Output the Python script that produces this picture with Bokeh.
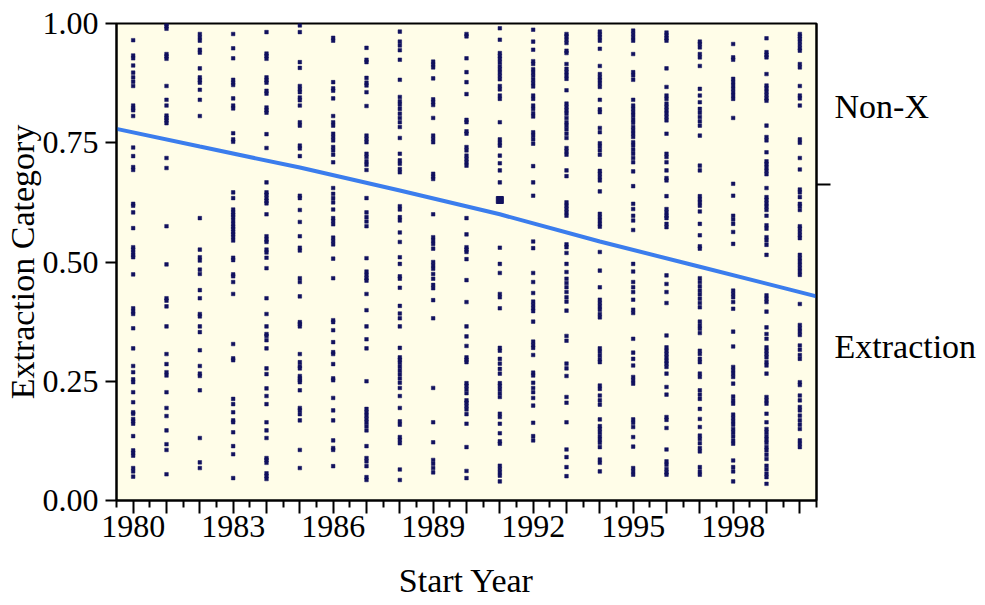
from bokeh.plotting import figure
from bokeh.models import (FixedTicker, LinearAxis, CustomJSTickFormatter,
                          PrintfTickFormatter, Range1d)
from bokeh.embed import file_html
from bokeh.resources import INLINE

# ---------------- data ----------------
years = list(range(1980, 2001))
categories = ["Extraction", "Non-X"]
x_tick_label_years = [1980, 1983, 1986, 1989, 1992, 1995, 1998]
y_ticks = [0.0, 0.25, 0.5, 0.75, 1.0]

y1980 = [0.965,0.933,0.927,0.912,0.897,0.887,0.878,0.869,0.828,0.822,0.818,0.806,0.740,0.722,0.699,0.693,0.622,0.618,0.604,0.571,0.531,0.526,0.520,0.514,0.510,0.474,0.403,0.396,0.391,0.361,0.319,0.282,0.269,0.254,0.248,0.227,0.206,0.185,0.182,0.171,0.166,0.161,0.135,0.105,0.100,0.094,0.068,0.061,0.050]
y1981 = [0.999,0.994,0.989,0.936,0.931,0.926,0.869,0.840,0.828,0.807,0.802,0.797,0.791,0.718,0.697,0.575,0.495,0.424,0.419,0.407,0.365,0.307,0.286,0.269,0.262,0.227,0.194,0.177,0.147,0.118,0.106,0.055]
y1982 = [0.978,0.971,0.964,0.945,0.939,0.906,0.887,0.881,0.876,0.861,0.840,0.806,0.592,0.526,0.510,0.503,0.484,0.475,0.441,0.424,0.391,0.386,0.365,0.353,0.315,0.282,0.266,0.261,0.231,0.131,0.080,0.068]
y1983 = [0.978,0.948,0.927,0.882,0.876,0.871,0.843,0.828,0.822,0.770,0.757,0.752,0.646,0.634,0.610,0.604,0.599,0.594,0.587,0.580,0.574,0.569,0.563,0.558,0.552,0.545,0.509,0.504,0.474,0.470,0.458,0.433,0.328,0.298,0.294,0.213,0.202,0.185,0.168,0.164,0.143,0.114,0.097,0.047]
y1984 = [0.982,0.937,0.932,0.926,0.887,0.881,0.876,0.859,0.853,0.824,0.818,0.813,0.768,0.739,0.667,0.646,0.641,0.634,0.628,0.623,0.600,0.554,0.547,0.542,0.526,0.520,0.509,0.487,0.424,0.391,0.365,0.349,0.345,0.336,0.319,0.277,0.265,0.235,0.219,0.202,0.164,0.147,0.131,0.089,0.085,0.079,0.057,0.051,0.045]
y1985 = [0.996,0.982,0.919,0.907,0.869,0.862,0.856,0.845,0.839,0.828,0.793,0.786,0.744,0.738,0.722,0.639,0.634,0.609,0.584,0.554,0.530,0.524,0.466,0.458,0.428,0.374,0.370,0.365,0.307,0.290,0.282,0.277,0.261,0.256,0.252,0.248,0.231,0.194,0.189,0.181,0.168,0.106,0.068]
y1986 = [0.970,0.964,0.877,0.864,0.859,0.843,0.806,0.793,0.786,0.769,0.762,0.755,0.741,0.734,0.725,0.709,0.655,0.643,0.634,0.625,0.610,0.592,0.586,0.579,0.551,0.544,0.537,0.507,0.466,0.378,0.374,0.357,0.332,0.311,0.307,0.286,0.256,0.252,0.215,0.189,0.168,0.126,0.110,0.106,0.072]
y1987 = [0.949,0.924,0.919,0.886,0.876,0.870,0.856,0.827,0.765,0.758,0.751,0.727,0.720,0.711,0.704,0.693,0.634,0.604,0.594,0.585,0.575,0.508,0.480,0.473,0.466,0.461,0.433,0.399,0.365,0.338,0.319,0.250,0.192,0.185,0.178,0.171,0.164,0.156,0.147,0.114,0.089,0.082,0.072,0.049,0.043]
y1988 = [0.983,0.962,0.954,0.944,0.924,0.882,0.846,0.837,0.830,0.821,0.811,0.802,0.793,0.783,0.760,0.727,0.713,0.706,0.695,0.688,0.617,0.610,0.594,0.587,0.562,0.542,0.510,0.496,0.470,0.465,0.446,0.408,0.392,0.382,0.365,0.320,0.300,0.295,0.289,0.281,0.273,0.265,0.256,0.247,0.236,0.219,0.194,0.166,0.159,0.133,0.127,0.120,0.065,0.043]
y1989 = [0.920,0.914,0.908,0.885,0.841,0.835,0.829,0.802,0.765,0.758,0.751,0.685,0.679,0.674,0.600,0.552,0.545,0.538,0.528,0.500,0.493,0.486,0.475,0.465,0.452,0.445,0.420,0.382,0.236,0.164,0.122,0.085,0.077,0.068,0.059]
y1990 = [0.978,0.973,0.927,0.898,0.877,0.852,0.798,0.793,0.774,0.769,0.741,0.734,0.723,0.716,0.709,0.702,0.592,0.558,0.531,0.526,0.521,0.506,0.462,0.416,0.365,0.344,0.324,0.300,0.295,0.290,0.246,0.240,0.233,0.225,0.210,0.205,0.198,0.191,0.181,0.161,0.112,0.062,0.047]
y1991 = [0.990,0.966,0.938,0.932,0.926,0.919,0.911,0.904,0.897,0.890,0.883,0.869,0.862,0.849,0.842,0.793,0.757,0.750,0.744,0.723,0.707,0.692,0.667,0.530,0.496,0.477,0.433,0.426,0.403,0.320,0.314,0.297,0.287,0.276,0.266,0.246,0.240,0.233,0.225,0.217,0.182,0.175,0.161,0.141,0.124,0.119,0.073,0.066,0.059,0.052,0.040]
y1992 = [0.987,0.962,0.945,0.921,0.915,0.904,0.897,0.890,0.882,0.875,0.868,0.849,0.842,0.828,0.821,0.812,0.805,0.772,0.765,0.757,0.748,0.701,0.667,0.639,0.543,0.529,0.477,0.458,0.435,0.417,0.410,0.403,0.397,0.375,0.333,0.326,0.320,0.305,0.268,0.262,0.247,0.236,0.227,0.215,0.199,0.163,0.135,0.126]
y1993 = [0.978,0.973,0.966,0.959,0.943,0.938,0.915,0.905,0.898,0.891,0.884,0.860,0.832,0.825,0.818,0.811,0.802,0.793,0.786,0.778,0.769,0.760,0.739,0.732,0.725,0.692,0.680,0.625,0.618,0.611,0.604,0.597,0.537,0.531,0.519,0.496,0.479,0.465,0.456,0.447,0.437,0.426,0.417,0.398,0.345,0.335,0.287,0.277,0.261,0.217,0.205,0.164,0.107,0.091,0.070,0.051]
y1994 = [0.983,0.977,0.971,0.964,0.947,0.911,0.894,0.887,0.881,0.874,0.867,0.840,0.820,0.814,0.781,0.772,0.749,0.742,0.734,0.725,0.691,0.685,0.678,0.671,0.648,0.601,0.594,0.587,0.580,0.574,0.521,0.482,0.447,0.421,0.414,0.407,0.400,0.391,0.384,0.319,0.312,0.304,0.296,0.290,0.241,0.234,0.220,0.210,0.201,0.170,0.156,0.150,0.143,0.135,0.128,0.121,0.112,0.086,0.079,0.061]
y1995 = [0.985,0.978,0.971,0.964,0.936,0.898,0.891,0.882,0.840,0.828,0.821,0.814,0.807,0.799,0.792,0.783,0.776,0.769,0.762,0.751,0.744,0.735,0.727,0.718,0.709,0.690,0.659,0.622,0.611,0.597,0.587,0.567,0.496,0.480,0.458,0.447,0.437,0.421,0.400,0.393,0.339,0.310,0.297,0.283,0.259,0.252,0.245,0.170,0.163,0.154,0.133,0.113,0.068,0.061,0.054]
y1996 = [0.981,0.975,0.969,0.964,0.906,0.867,0.849,0.842,0.832,0.825,0.818,0.811,0.804,0.797,0.769,0.727,0.720,0.709,0.692,0.676,0.671,0.638,0.611,0.604,0.597,0.592,0.580,0.573,0.472,0.454,0.437,0.414,0.346,0.321,0.314,0.307,0.300,0.293,0.287,0.280,0.266,0.238,0.222,0.175,0.169,0.152,0.107,0.082,0.075,0.066,0.059,0.054]
y1997 = [0.962,0.957,0.950,0.936,0.929,0.911,0.863,0.849,0.835,0.821,0.813,0.804,0.795,0.786,0.765,0.702,0.692,0.638,0.631,0.625,0.618,0.606,0.580,0.556,0.533,0.528,0.466,0.458,0.449,0.440,0.432,0.423,0.414,0.405,0.375,0.367,0.360,0.351,0.314,0.307,0.297,0.290,0.266,0.259,0.231,0.222,0.213,0.192,0.171,0.154,0.136,0.129,0.120,0.110,0.103,0.070,0.061,0.054]
y1998 = [0.957,0.929,0.924,0.884,0.877,0.870,0.863,0.856,0.849,0.842,0.802,0.664,0.639,0.597,0.589,0.580,0.563,0.538,0.440,0.433,0.426,0.416,0.402,0.354,0.323,0.280,0.273,0.266,0.259,0.245,0.218,0.210,0.203,0.180,0.173,0.166,0.159,0.150,0.143,0.135,0.126,0.119,0.084,0.070,0.061,0.040]
y1999 = [0.969,0.940,0.934,0.929,0.894,0.870,0.864,0.857,0.850,0.843,0.838,0.786,0.762,0.755,0.730,0.711,0.705,0.698,0.691,0.684,0.655,0.636,0.630,0.623,0.616,0.609,0.597,0.577,0.570,0.552,0.545,0.536,0.515,0.430,0.423,0.416,0.396,0.363,0.349,0.339,0.321,0.314,0.307,0.300,0.290,0.283,0.266,0.217,0.210,0.203,0.182,0.164,0.150,0.143,0.135,0.128,0.121,0.112,0.105,0.096,0.087,0.073,0.065,0.056,0.049,0.035]
y2000 = [0.978,0.973,0.968,0.962,0.955,0.948,0.943,0.915,0.908,0.869,0.849,0.843,0.828,0.757,0.750,0.718,0.694,0.652,0.646,0.636,0.622,0.617,0.609,0.575,0.570,0.563,0.556,0.550,0.515,0.508,0.501,0.494,0.487,0.480,0.473,0.412,0.368,0.361,0.354,0.347,0.325,0.316,0.305,0.297,0.248,0.242,0.220,0.210,0.196,0.189,0.178,0.168,0.159,0.150,0.126,0.119,0.112]

# larger marker (several coincident points)
stacked_year = [1991]
stacked_y = [0.630]

# fitted probability curve
curve_years = [1979.5, 1982, 1985, 1988, 1991, 1994, 1997, 2000.5]
curve_prob = [0.779, 0.742, 0.698, 0.650, 0.600, 0.543, 0.490, 0.428]

# overall proportion (right axis tick) and category label positions
overall_rate = 0.6625
category_label_pos = [0.323, 0.826]

# ---------------- build ----------------
columns = [y1980, y1981, y1982, y1983, y1984, y1985, y1986, y1987, y1988, y1989,
           y1990, y1991, y1992, y1993, y1994, y1995, y1996, y1997, y1998, y1999, y2000]
xs, ys = [], []
for yr, col in zip(years, columns):
    xs.extend([yr] * len(col))
    ys.extend(col)

FONT = "Liberation Serif"
FS = "32px"
FS_WORDS = "34px"
DOT = "#11115e"

p = figure(frame_width=700, frame_height=477, output_backend="svg", toolbar_location=None,
           x_range=Range1d(1979.5, 2000.5), y_range=Range1d(0, 1),
           min_border_left=100, min_border_right=160, min_border_top=23, min_border_bottom=95,
           background_fill_color="#fffde8", border_fill_color="#ffffff")
p.outline_line_color = "black"
p.outline_line_width = 2
p.grid.visible = False

p.line(curve_years, curve_prob, line_color="#3b7ded", line_width=4)
p.scatter(xs, ys, marker="square", size=3.6, fill_color=DOT, line_color=DOT, line_width=0.5)
p.scatter(stacked_year, stacked_y, marker="square", size=7, fill_color=DOT, line_color=DOT)

# x axis
xa = p.xaxis[0]
xa.ticker = FixedTicker(ticks=years, minor_ticks=[y - 0.5 for y in years] + [years[-1] + 0.5])
xa.formatter = CustomJSTickFormatter(args=dict(show=x_tick_label_years),
                                     code="return show.includes(Math.round(tick)) ? String(Math.round(tick)) : '';")
xa.axis_label = "Start Year"

# y axis
ya = p.yaxis[0]
ya.ticker = FixedTicker(ticks=y_ticks, minor_ticks=[])
ya.formatter = PrintfTickFormatter(format="%.2f")
ya.axis_label = "Extraction Category"

for ax in (xa, ya):
    ax.axis_line_color = "black"
    ax.axis_line_width = 2
    ax.major_tick_line_color = "black"
    ax.major_tick_line_width = 2
    ax.minor_tick_line_color = "black"
    ax.minor_tick_line_width = 2
    ax.major_tick_in = 0
    ax.minor_tick_in = 0
    ax.major_label_text_font = FONT
    ax.major_label_text_font_size = FS
    ax.major_label_text_color = "black"
    ax.axis_label_text_font = FONT
    ax.axis_label_text_font_size = FS_WORDS
    ax.axis_label_text_font_style = "normal"
    ax.axis_label_text_color = "black"

xa.major_tick_out = 13
xa.minor_tick_out = 7
xa.major_label_standoff = 2
xa.axis_label_standoff = 22
ya.major_tick_out = 11
ya.major_label_standoff = 7
ya.axis_label_standoff = -1

# right axis: overall rate tick and category names
ra = LinearAxis(ticker=FixedTicker(ticks=category_label_pos, minor_ticks=[overall_rate]),
                formatter=CustomJSTickFormatter(args=dict(low=categories[0], high=categories[1], cut=overall_rate),
                                                code="return tick > cut ? high : low;"))
ra.axis_line_color = "black"
ra.axis_line_width = 2
ra.major_tick_in = 0
ra.major_tick_out = 0
ra.minor_tick_in = 0
ra.minor_tick_out = 14
ra.minor_tick_line_color = "black"
ra.minor_tick_line_width = 2
ra.major_label_standoff = 4
ra.major_label_text_font = FONT
ra.major_label_text_font_size = FS_WORDS
ra.major_label_text_color = "black"
p.add_layout(ra, "right")

open("out.html", "w").write(file_html(p, INLINE))
